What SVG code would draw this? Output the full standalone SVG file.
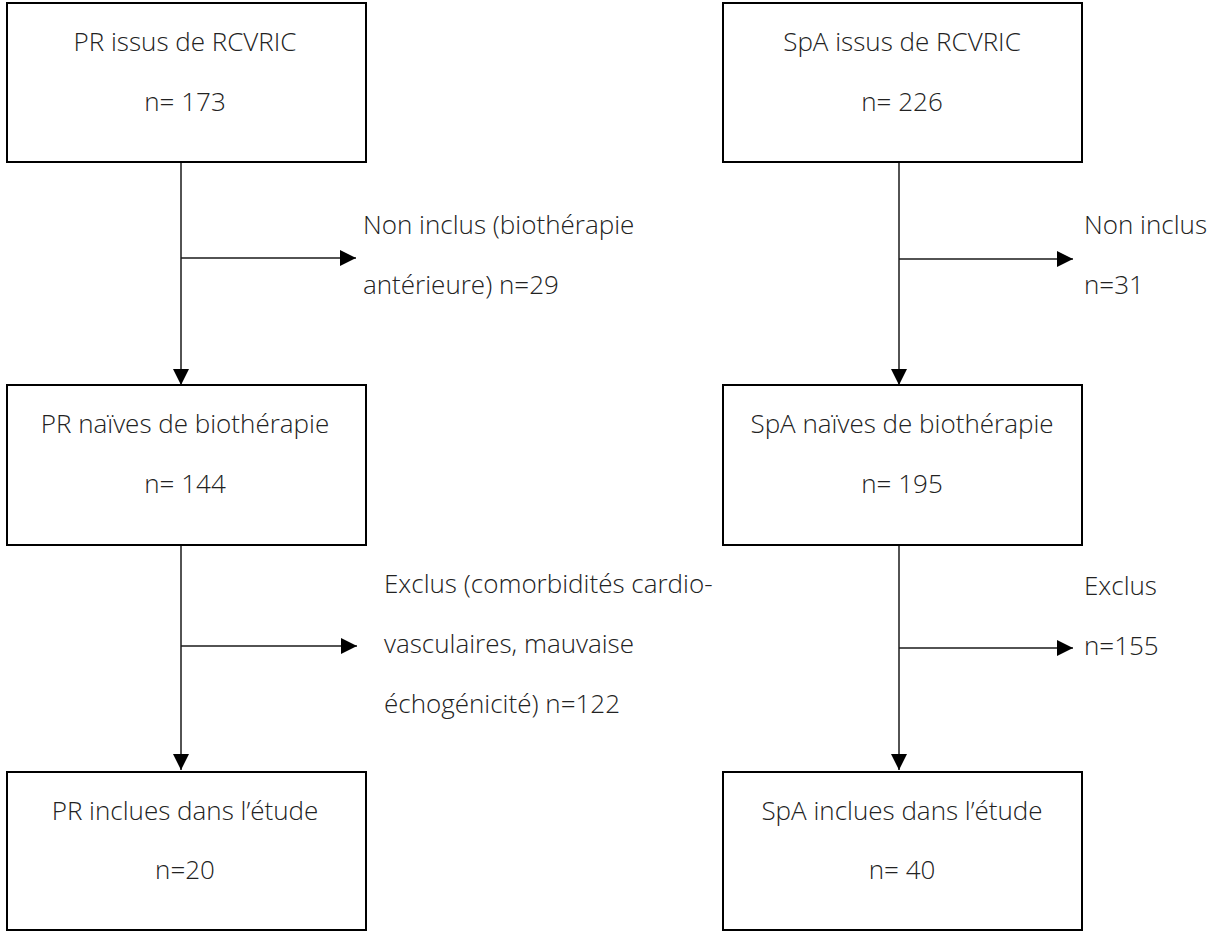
<svg xmlns="http://www.w3.org/2000/svg" width="1207" height="932" viewBox="0 0 1207 932">
<defs>
<style>
.box{fill:#fff;stroke:#000;stroke-width:2}
.t{font-family:"Open Sans","Segoe UI","Liberation Sans",sans-serif;font-weight:300;font-size:26px;fill:#222}
.c{text-anchor:middle}
.ln{stroke:#1a1a1a;stroke-width:1.5;fill:none}
</style>
<marker id="ah" markerWidth="16" markerHeight="16" viewBox="0 0 16 16" refX="16" refY="8" orient="auto" markerUnits="userSpaceOnUse">
<path d="M0,0 L16,8 L0,16 Z" fill="#000"/>
</marker>
</defs>
<rect width="1207" height="932" fill="#fff"/>
<g id="connectors">
<line class="ln" x1="181" y1="162" x2="181" y2="385" marker-end="url(#ah)"/>
<line class="ln" x1="181" y1="258" x2="356" y2="258" marker-end="url(#ah)"/>
<line class="ln" x1="181" y1="545" x2="181" y2="770" marker-end="url(#ah)"/>
<line class="ln" x1="181" y1="646" x2="357" y2="646" marker-end="url(#ah)"/>
<line class="ln" x1="899" y1="162" x2="899" y2="385" marker-end="url(#ah)"/>
<line class="ln" x1="899" y1="259" x2="1073" y2="259" marker-end="url(#ah)"/>
<line class="ln" x1="899" y1="545" x2="899" y2="770" marker-end="url(#ah)"/>
<line class="ln" x1="899" y1="648" x2="1073" y2="648" marker-end="url(#ah)"/>
</g>
<g id="pr1">
<rect class="box" x="7" y="3" width="359" height="159"/>
<text class="t c" x="185" y="51">PR issus de RCVRIC</text>
<text class="t c" x="185" y="111">n= 173</text>
</g>
<g id="pr2">
<rect class="box" x="7" y="385" width="359" height="160"/>
<text class="t c" x="185" y="433">PR naïves de biothérapie</text>
<text class="t c" x="185" y="493">n= 144</text>
</g>
<g id="pr3">
<rect class="box" x="7" y="772" width="359" height="158"/>
<text class="t c" x="185" y="820">PR inclues dans l’étude</text>
<text class="t c" x="185" y="879">n=20</text>
</g>
<g id="pr-excl1">
<text class="t" x="363" y="234">Non inclus (biothérapie</text>
<text class="t" x="363" y="294">antérieure) n=29</text>
</g>
<g id="pr-excl2">
<text class="t" x="384" y="593">Exclus (comorbidités cardio-</text>
<text class="t" x="384" y="653">vasculaires, mauvaise</text>
<text class="t" x="384" y="713">échogénicité) n=122</text>
</g>
<g id="spa1">
<rect class="box" x="723" y="3" width="359" height="159"/>
<text class="t c" x="902" y="51">SpA issus de RCVRIC</text>
<text class="t c" x="902" y="111">n= 226</text>
</g>
<g id="spa2">
<rect class="box" x="723" y="385" width="359" height="160"/>
<text class="t c" x="902" y="433">SpA naïves de biothérapie</text>
<text class="t c" x="902" y="493">n= 195</text>
</g>
<g id="spa3">
<rect class="box" x="723" y="772" width="359" height="158"/>
<text class="t c" x="902" y="820">SpA inclues dans l’étude</text>
<text class="t c" x="902" y="879">n= 40</text>
</g>
<g id="spa-excl1">
<text class="t" x="1084" y="234">Non inclus</text>
<text class="t" x="1084" y="294">n=31</text>
</g>
<g id="spa-excl2">
<text class="t" x="1084" y="595">Exclus</text>
<text class="t" x="1084" y="655">n=155</text>
</g>
</svg>
